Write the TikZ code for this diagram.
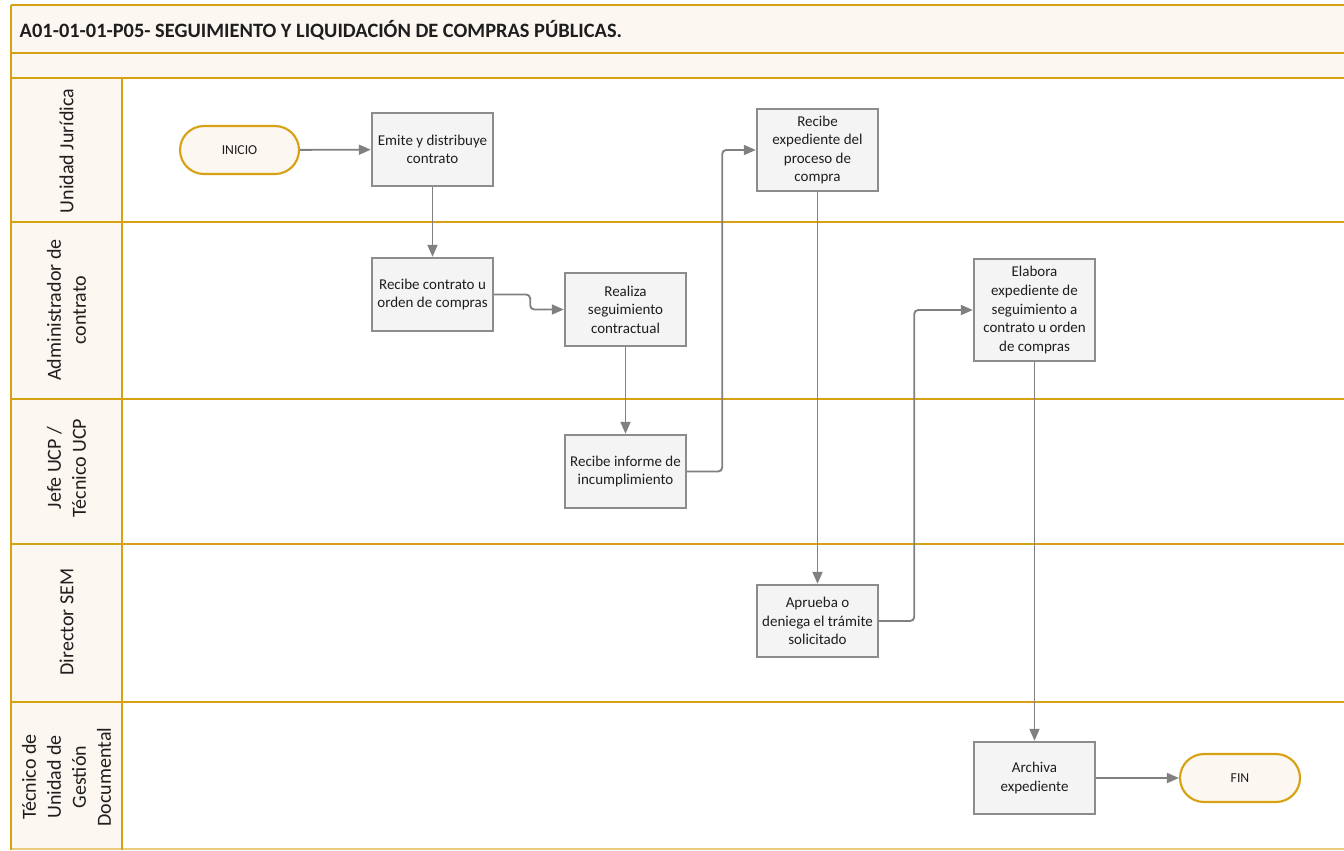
\documentclass[tikz,border=0pt]{standalone}
\usepackage{fontspec}
\setmainfont{Carlito}
\usetikzlibrary{arrows.meta}
\definecolor{gold}{RGB}{214,162,20}
\definecolor{cream}{RGB}{253,247,241}
\definecolor{boxfill}{RGB}{244,244,244}
\definecolor{boxline}{RGB}{140,140,140}
\definecolor{linegray}{RGB}{128,128,128}
\definecolor{txt}{RGB}{30,30,30}
\begin{document}
\begin{tikzpicture}[x=0.75pt,y=-0.75pt,
  proc/.style={draw=boxline, line width=1.8pt, fill=boxfill, minimum width=90.75pt, minimum height=54.75pt, align=center, text=txt, inner sep=1pt, font=\fontsize{11.25}{13.9}\selectfont},
  term/.style={draw=gold, line width=1.6pt, fill=cream, rounded corners=18pt, minimum width=89.25pt, minimum height=36pt, text=txt, font=\fontsize{10.25}{12}\selectfont},
  flow/.style={draw=linegray, line width=1.4pt, rounded corners=3pt, -{Triangle[length=9pt,width=7.5pt]}},
  lane/.style={draw=gold, line width=2.2pt},
  lanelabel/.style={rotate=90, align=center, text=txt, font=\fontsize{15}{18.75}\selectfont}]
\useasboundingbox (0,0) rectangle (1344,850);
\clip (0,0) rectangle (1344,850);
% background bands
\fill[cream] (11,5) rectangle (1350,78);
\fill[cream] (11,78) rectangle (122,850);
% frame lines
\foreach \yy in {5,53,78,222,399,544,702} {\draw[lane] (11,\yy) -- (1350,\yy);}
\draw[lane, draw=gold!55] (11,849) -- (1350,849);
\draw[lane] (11,5) -- (11,850);
\draw[lane] (122,78) -- (122,850);
% title
\node[anchor=west, text=txt, font=\bfseries\fontsize{15.3}{18}\selectfont] (title) at (15,30) {A01-01-01-P05- SEGUIMIENTO Y LIQUIDACIÓN DE COMPRAS PÚBLICAS.};
% lane labels
\node[lanelabel] (l1) at (66.5,151) {Unidad Jurídica};
\node[lanelabel] (l2) at (66.5,310) {Administrador de\\contrato};
\node[lanelabel] (l3) at (66.5,468) {Jefe UCP /\\Técnico UCP};
\node[lanelabel] (l4) at (66.5,622) {Director SEM};
\node[lanelabel] (l5) at (66.5,777) {Técnico de\\Unidad de\\Gestión\\Documental};
% nodes
\node[term] (inicio) at (239.5,150) {INICIO};
\node[proc] (emite) at (432.5,149.5) {Emite y distribuye\\contrato};
\node[proc] (rc) at (432.5,294.5) {Recibe contrato u\\orden de compras};
\node[proc] (rs) at (625.5,309.5) {Realiza\\seguimiento\\contractual};
\node[proc] (ri) at (625.5,471.5) {Recibe informe de\\incumplimiento};
\node[proc, minimum height=61.5pt] (re) at (817.5,150) {Recibe\\expediente del\\proceso de\\compra};
\node[proc, minimum height=54pt] (ap) at (817.5,621) {Aprueba o\\deniega el trámite\\solicitado};
\node[proc, minimum height=76.5pt] (el) at (1034.5,310) {Elabora\\expediente de\\seguimiento a\\contrato u orden\\de compras};
\node[proc, minimum height=54pt] (ar) at (1034.5,778) {Archiva\\expediente};
\node[term, minimum width=90pt] (fin) at (1240,778) {FIN};
% connectors
\draw[flow] (inicio) -- (emite);
\draw[flow] (emite) -- (rc);
\draw[flow] (rc.east) -- ++(36,0) |- (rs.west);
\draw[flow] (rs) -- (ri);
\draw[flow] (ri.east) -- ++(35,0) |- (re.west);
\draw[flow] (re) -- (ap);
\draw[flow] (ap.east) -- ++(35,0) |- (el.west);
\draw[flow] (el) -- (ar);
\draw[flow] (ar) -- (fin);
\end{tikzpicture}
\end{document}
